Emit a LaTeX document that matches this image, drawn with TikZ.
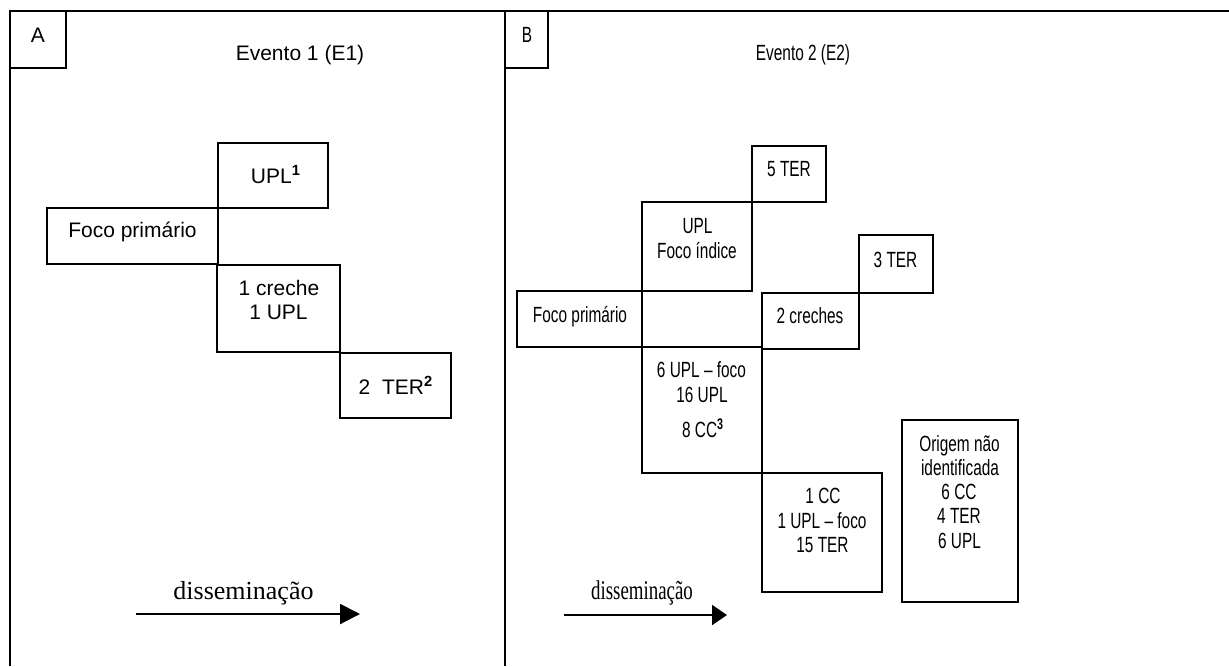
\documentclass[tikz,border=0pt]{standalone}
\usepackage{fontspec}
\usepackage{graphicx}
\setmainfont{Liberation Sans}
\newfontfamily\serifwide{Liberation Serif}
\newcommand{\nrw}[1]{\scalebox{0.70}[1]{#1}}
\usetikzlibrary{arrows.meta}
\begin{document}
\begin{tikzpicture}[x=0.5pt,y=-0.5pt,
  frame/.style={line width=1pt},
  bx/.style 2 args={draw, line width=1pt, inner sep=0pt, minimum width=#1*0.5pt, minimum height=#2*0.5pt},
  la/.style={font=\fontsize{10.5}{12}\selectfont, anchor=base, inner sep=0pt},
  lb/.style={font=\fontsize{11}{12}\selectfont, anchor=base, inner sep=0pt},
  arrA/.style={line width=1pt, -{Triangle[length=10pt,width=10pt]}},
  arrB/.style={line width=1pt, -{Triangle[length=7.5pt,width=10pt]}}]
\useasboundingbox (0,0) rectangle (1229,666);
% frame
\draw[frame] (9.5,666) -- (9.5,11) -- (1229,11);
\draw[frame] (505,11) -- (505,666);
% ---------- Panel A ----------
\node[bx={56}{57}] (boxA) at (38,39.5) {};
\node[la] (tA) at (38,42) {A};
\node[la] (ev1) at (300,60) {Evento 1 (E1)};
\node[bx={110}{65}] (upl1) at (273,175.5) {};
\node[la] (tupl1) at (276,183) {UPL\textsuperscript{\bfseries 1}};
\node[bx={171}{56}] (focoA) at (132.5,236) {};
\node[la] (tfocoA) at (132.5,237) {Foco primário};
\node[bx={123}{87}] (creche) at (278.5,308.5) {};
\node[la] (tcreche1) at (279,295) {1 creche};
\node[la] (tcreche2) at (278.5,319) {1 UPL};
\node[bx={111}{65}] (ter2) at (395.5,385.5) {};
\node[la] (tter2) at (396,394) {2\ \ TER\textsuperscript{\bfseries 2}};
\node[font=\serifwide\fontsize{13}{15}\selectfont, anchor=base, inner sep=0pt] (disA) at (243.5,599) {disseminação};
\coordinate (aA1) at (136,614);
\coordinate (aA2) at (360,614);
\draw[arrA] (aA1) -- (aA2);
% ---------- Panel B ----------
\node[bx={43}{57}] (boxB) at (526.5,39.5) {};
\node[lb] (tB) at (527,42) {\nrw{B}};
\node[lb] (ev2) at (803,60) {\nrw{Evento 2 (E2)}};
\node[bx={74}{56}] (ter5) at (789,174) {};
\node[lb] (tter5) at (789,176) {\nrw{5 TER}};
\node[bx={110}{89}] (uplfi) at (697,246.5) {};
\node[lb] (tuplfi1) at (697.5,233) {\nrw{UPL}};
\node[lb] (tuplfi2) at (697,258) {\nrw{Foco índice}};
\node[bx={125}{56}] (focoB) at (579.5,319) {};
\node[lb] (tfocoB) at (580,322) {\nrw{Foco primário}};
\node[bx={97}{56}] (creches2) at (810.5,321) {};
\node[lb] (tcreches2) at (810,323) {\nrw{2 creches}};
\node[bx={74}{58}] (ter3) at (896,264) {};
\node[lb] (tter3) at (895.5,267) {\nrw{3 TER}};
\node[bx={120}{126}] (upl6) at (702,410) {};
\node[lb] (tupl6a) at (701.5,377) {\nrw{6 UPL – foco}};
\node[lb] (tupl6b) at (702,402) {\nrw{16 UPL}};
\node[lb] (tupl6c) at (703,437) {\nrw{8 CC\textsuperscript{\bfseries 3}}};
\node[bx={120}{119}] (cc1) at (822,532.5) {};
\node[lb] (tcc1a) at (823,503) {\nrw{1 CC}};
\node[lb] (tcc1b) at (822,528) {\nrw{1 UPL – foco}};
\node[lb] (tcc1c) at (822.5,552) {\nrw{15 TER}};
\node[bx={116}{182}] (origem) at (960,511) {};
\node[lb] (tor1) at (959.5,451) {\nrw{Origem não}};
\node[lb] (tor2) at (960,475) {\nrw{identificada}};
\node[lb] (tor3) at (959,499) {\nrw{6 CC}};
\node[lb] (tor4) at (959,523) {\nrw{4 TER}};
\node[lb] (tor5) at (959.5,548) {\nrw{6 UPL}};
\node[font=\serifwide\fontsize{13.5}{15}\selectfont, anchor=base, inner sep=0pt] (disB) at (642,599) {\nrw{disseminação}};
\coordinate (aB1) at (564,615);
\coordinate (aB2) at (727,615);
\draw[arrB] (aB1) -- (aB2);
\end{tikzpicture}
\end{document}
